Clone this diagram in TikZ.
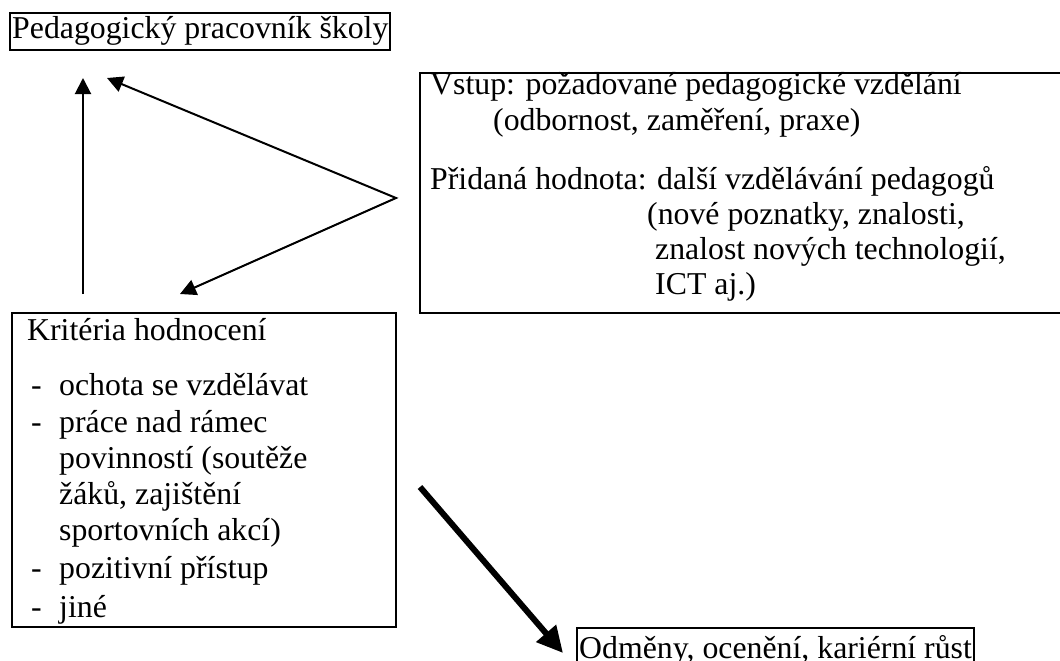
\documentclass[tikz,border=0pt]{standalone}
\usepackage{fontspec}
\setmainfont{Liberation Serif}
\usetikzlibrary{arrows.meta}
\begin{document}
\begin{tikzpicture}[x=1pt,y=-1pt,
  box/.style={draw, line width=2pt, rectangle, inner sep=0pt, anchor=north west},
  txt/.style={anchor=base west, inner sep=0pt, font=\fontsize{31.8}{36}\selectfont},
  thintip/.style={Triangle[length=16pt,width=16pt]},
  thinarrow/.style={line width=2pt, -{Triangle[length=16pt,width=16pt]}},
  boldarrow/.style={line width=6pt, -{Triangle[length=26pt,width=25pt]}}]
\useasboundingbox (0,0) rectangle (1060,661);
\clip (0,0) rectangle (1060,661);
% boxes
\node[box, minimum width=380pt, minimum height=37pt] (topbox) at (9,12) {};
\node[box, minimum width=700pt, minimum height=240pt] (inbox) at (419,72) {};
\node[box, minimum width=384pt, minimum height=314pt] (critbox) at (11,312) {};
\node[box, minimum width=397pt, minimum height=60pt] (rewbox) at (576,627) {};
% texts
\node[txt] (ttop) at (12,39) {Pedagogický pracovník školy};
\node[txt] (tin1) at (430,95) {Vstup: požadované pedagogické vzdělání};
\node[txt] (tin2) at (493,130) {(odbornost, zaměření, praxe)};
\node[txt] (tin3) at (430,189) {Přidaná hodnota: další vzdělávání pedagogů};
\node[txt] (tin4) at (647,224) {(nové poznatky, znalosti,};
\node[txt] (tin5) at (655,259) {znalost nových technologií,};
\node[txt] (tin6) at (655,294) {ICT aj.)};
\node[txt] (tcr0) at (27,340) {Kritéria hodnocení};
\node[txt] (dcr1) at (31,395) {-};
\node[txt] (tcr1) at (59,395) {ochota se vzdělávat};
\node[txt] (dcr2) at (31,432) {-};
\node[txt] (tcr2) at (59,432) {práce nad rámec};
\node[txt] (tcr3) at (59,468) {povinností (soutěže};
\node[txt] (tcr4) at (59,504) {žáků, zajištění};
\node[txt] (tcr5) at (59,540) {sportovních akcí)};
\node[txt] (dcr6) at (31,578) {-};
\node[txt] (tcr6) at (59,578) {pozitivní přístup};
\node[txt] (dcr7) at (31,617) {-};
\node[txt] (tcr7) at (59,617) {jiné};
\node[txt] (trew) at (579,658) {Odměny, ocenění, kariérní růst};
% connector points
\coordinate (upS) at (83,294);
\coordinate (upE) at (83,78);
\coordinate (fork) at (396,198);
\coordinate (topE) at (107,78);
\coordinate (leftE) at (180,294);
\coordinate (boldS) at (420,487);
\coordinate (boldE) at (563,653);
% connectors
\draw[thinarrow] (upS) -- (upE);
\draw[line width=2pt, line join=miter, {Triangle[length=16pt,width=16pt]}-{Triangle[length=16pt,width=16pt]}] (topE) -- (fork) -- (leftE);
\draw[boldarrow] (boldS) -- (boldE);
\end{tikzpicture}
\end{document}
